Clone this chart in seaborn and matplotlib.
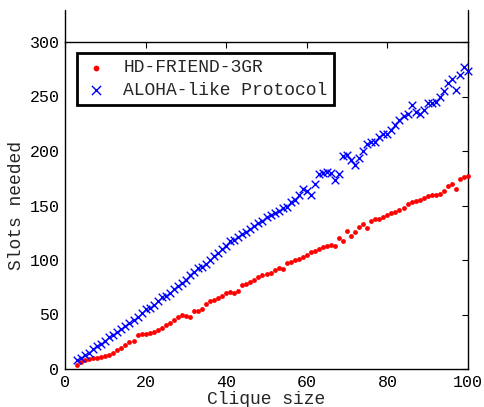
import numpy as np
import pandas as pd
import matplotlib
matplotlib.use("Agg")
import matplotlib.pyplot as plt
import seaborn as sns

# clique sizes 3..100
clique_size = list(range(3, 101))

hd_friend = [
    4, 6, 8, 9, 10, 10, 11, 12, 13, 15, 17, 19, 22, 25, 26, 31, 32, 32,
    33, 34, 36, 38, 40, 42, 45, 48, 50, 49, 48, 53, 53, 55, 60, 62, 63,
    65, 67, 70, 71, 70, 72, 77, 78, 80, 82, 84, 86, 87, 88, 91, 93, 92,
    97, 98, 100, 101, 103, 105, 107, 108, 110, 112, 113, 114, 113, 120,
    117, 127, 122, 126, 130, 133, 129, 136, 138, 138, 139, 141, 143, 144,
    146, 148, 151, 153, 154, 155, 157, 159, 160, 160, 161, 163, 168, 170,
    165, 174, 176, 177,
]

aloha = [
    8, 10, 13, 15, 18, 21, 23, 26, 29, 31, 34, 37, 39, 42, 45, 48, 51, 55,
    56, 59, 62, 66, 67, 70, 73, 76, 79, 82, 86, 89, 93, 94, 96, 100, 104,
    106, 110, 113, 117, 118, 121, 124, 126, 128, 131, 134, 136, 139, 141,
    143, 145, 148, 149, 153, 155, 160, 165, 163, 160, 170, 179, 180, 181,
    180, 173, 179, 195, 196, 192, 187, 194, 200, 206, 208, 208, 213, 216,
    216, 219, 224, 228, 232, 234, 242, 236, 234, 238, 244, 244, 245, 250,
    255, 262, 266, 256, 270, 277, 273,
]

df_hd = pd.DataFrame({"size": clique_size, "slots": hd_friend})
df_al = pd.DataFrame({"size": clique_size, "slots": aloha})

sns.set_style("white")
plt.rcParams["font.family"] = ["Liberation Mono", "DejaVu Sans Mono"]

fig = plt.figure(figsize=(4.84, 4.07), dpi=100)
ax = fig.add_axes([65 / 484, 38 / 407, 403 / 484, 327 / 407])

sns.scatterplot(data=df_hd, x="size", y="slots", ax=ax, color="#ff0000",
                marker="o", s=12, linewidth=0, label="HD-FRIEND-3GR",
                clip_on=False, zorder=3)
sns.scatterplot(data=df_al, x="size", y="slots", ax=ax, color="#0000ff",
                marker="x", s=30, linewidth=1.0, label="ALOHA-like Protocol",
                clip_on=False, zorder=3)

ax.set_xlim(0, 100)
ax.set_ylim(0, 300)
ax.set_xticks([0, 20, 40, 60, 80, 100])
ax.set_yticks([0, 50, 100, 150, 200, 250, 300])
ax.tick_params(direction="in", top=True, right=True, length=4, width=0.8,
               labelsize=12, pad=4, colors="black")
for sp in ax.spines.values():
    sp.set_color("black")
    sp.set_linewidth(1.0)

# side lines running above the plot box
for xv in (0, 100):
    ax.plot([xv, xv], [300, 329], color="black", lw=1.0, clip_on=False)

ax.set_xlabel("Clique size", fontsize=13, labelpad=1)
ax.set_ylabel("Slots needed", fontsize=13, labelpad=3)

leg = ax.legend(loc="upper left", bbox_to_anchor=(0.03, 0.966), fontsize=13,
                fancybox=False, framealpha=1, edgecolor="black",
                handletextpad=0.8, borderpad=0.35, labelspacing=0.3,
                handlelength=1.4, markerscale=1.2, borderaxespad=0)
leg.get_frame().set_linewidth(2.0)

fig.savefig("out.png", dpi=100)
